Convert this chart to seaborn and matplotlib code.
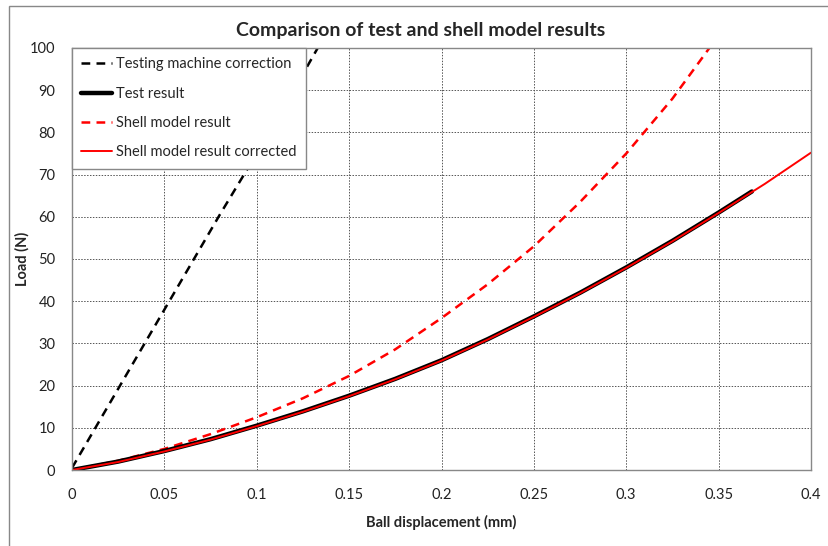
import pandas as pd
import matplotlib.pyplot as plt
import seaborn as sns

# values
machine_x = [0.0, 0.02, 0.04, 0.06, 0.08, 0.10, 0.12, 0.133]
machine_y = [0.5, 15.5, 30.5, 45.5, 60.5, 75.0, 90.0, 100.0]

test_x = [0.0, 0.025, 0.05, 0.075, 0.10, 0.125, 0.15, 0.175, 0.20, 0.225,
          0.25, 0.275, 0.30, 0.325, 0.35, 0.368]
test_y = [0.0, 2.0, 4.5, 7.3, 10.5, 13.9, 17.6, 21.6, 26.0, 31.0,
          36.4, 42.0, 48.0, 54.3, 61.0, 66.0]

shell_x = [0.0, 0.025, 0.05, 0.075, 0.10, 0.125, 0.15, 0.175, 0.20, 0.225,
           0.25, 0.275, 0.30, 0.325, 0.345]
shell_y = [0.0, 2.2, 5.0, 8.5, 12.5, 17.0, 22.3, 28.6, 36.0, 44.0,
           53.0, 63.5, 75.0, 88.0, 100.0]

corr_x = [0.0, 0.025, 0.05, 0.075, 0.10, 0.125, 0.15, 0.175, 0.20, 0.225,
          0.25, 0.275, 0.30, 0.325, 0.35, 0.375, 0.40]
corr_y = [0.0, 1.9, 4.4, 7.2, 10.4, 13.8, 17.5, 21.5, 25.9, 30.9,
          36.3, 41.9, 47.9, 54.2, 60.9, 67.8, 75.2]

x_ticks = [0, 0.05, 0.1, 0.15, 0.2, 0.25, 0.3, 0.35, 0.4]
x_tick_labels = ['0', '0.05', '0.1', '0.15', '0.2', '0.25', '0.3', '0.35', '0.4']
y_ticks = [0, 10, 20, 30, 40, 50, 60, 70, 80, 90, 100]


def main():
    sns.set_style('white')
    plt.rcParams['font.family'] = ['Lato', 'DejaVu Sans']

    fig = plt.figure(figsize=(8.29, 5.46), dpi=100)
    ax = fig.add_axes([72 / 829, 76 / 546, 739 / 829, 422 / 546])

    sns.lineplot(x=machine_x, y=machine_y, ax=ax, color='black', lw=1.8,
                 sort=False, label='Testing machine correction',
                 linestyle=(0, (3.5, 2.5)))
    sns.lineplot(x=shell_x, y=shell_y, ax=ax, color='#ff0000', lw=1.8,
                 sort=False, label='Shell model result',
                 linestyle=(0, (3.5, 2.5)))
    sns.lineplot(x=test_x, y=test_y, ax=ax, color='black', lw=3.2,
                 sort=False, label='Test result')
    sns.lineplot(x=corr_x, y=corr_y, ax=ax, color='#ff0000', lw=1.4,
                 sort=False, label='Shell model result corrected')

    ax.set_xlim(0, 0.4)
    ax.set_ylim(0, 100)
    ax.set_xticks(x_ticks)
    ax.set_xticklabels(x_tick_labels)
    ax.set_yticks(y_ticks)
    ax.tick_params(axis='both', labelsize=10.5, colors='#222222', length=4,
                   direction='out', color='#888888', width=0.8)
    ax.tick_params(axis='x', pad=9)
    ax.tick_params(axis='y', pad=8)
    ax.grid(True, color='#555555', linestyle=(0, (1.5, 1.5)), lw=0.7)
    for s in ax.spines.values():
        s.set_color('#888888')
        s.set_linewidth(1.0)

    ax.set_xlabel('Ball displacement (mm)', fontsize=10.5, fontweight='bold',
                  labelpad=9)
    ax.set_ylabel('Load (N)', fontsize=10.5, fontweight='bold', labelpad=0)
    fig.text(0.507, 0.945, 'Comparison of test and shell model results',
             ha='center', va='center', fontsize=14, fontweight='bold')

    h, l = ax.get_legend_handles_labels()
    order = [0, 2, 1, 3]
    leg = ax.legend([h[i] for i in order], [l[i] for i in order],
                    loc='upper left', bbox_to_anchor=(0, 1), fontsize=10.5,
                    frameon=True, fancybox=False, borderaxespad=0,
                    handlelength=2.1, handletextpad=0.3, labelspacing=1.05,
                    borderpad=0.65)
    leg.get_frame().set_edgecolor('#888888')
    leg.get_frame().set_linewidth(1.0)
    leg.get_frame().set_alpha(1)

    top = 1 - 6 / 546
    fig.patches.append(plt.Rectangle((9 / 829, -0.05), 1.2, top + 0.05,
                                     transform=fig.transFigure, fill=False,
                                     edgecolor='#888888', lw=1.0))

    fig.savefig('out.png', dpi=100)


if __name__ == '__main__':
    main()
